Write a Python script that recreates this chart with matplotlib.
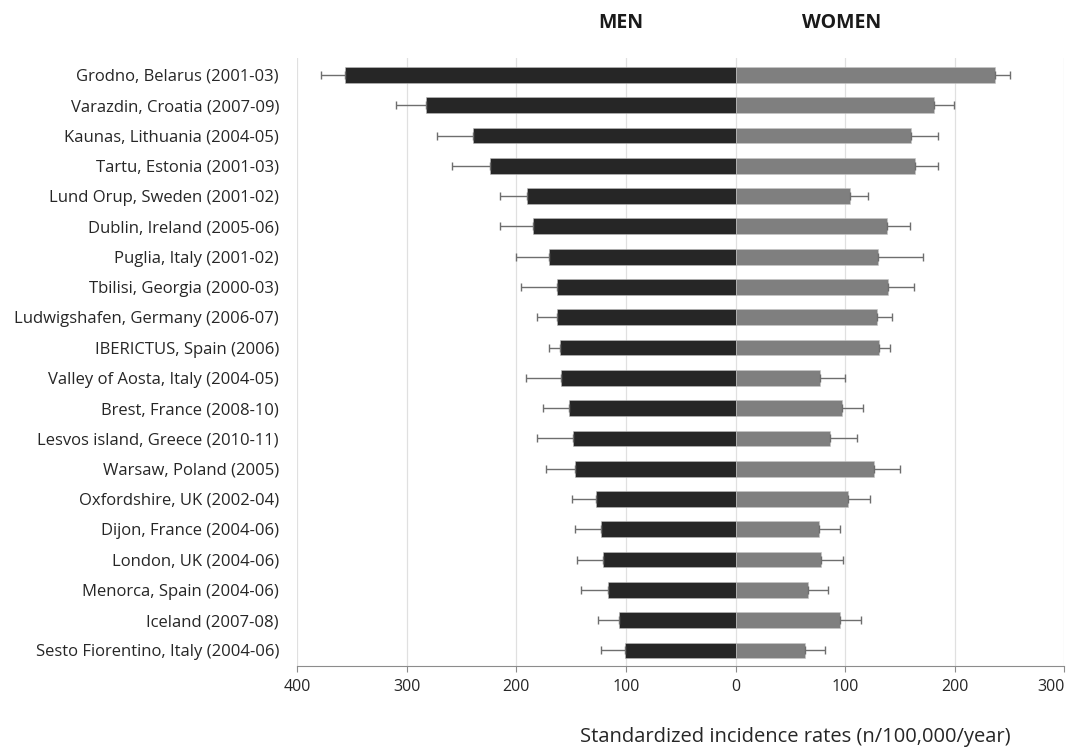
import numpy as np
import matplotlib
matplotlib.use('Agg')
import matplotlib.pyplot as plt
from matplotlib.transforms import ScaledTranslation

plt.rcParams['font.family'] = ['Open Sans', 'DejaVu Sans']

centres = ['Grodno, Belarus (2001-03)', 'Varazdin, Croatia (2007-09)',
           'Kaunas, Lithuania (2004-05)', 'Tartu, Estonia (2001-03)',
           'Lund Orup, Sweden (2001-02)', 'Dublin, Ireland (2005-06)',
           'Puglia, Italy (2001-02)', 'Tbilisi, Georgia (2000-03)',
           'Ludwigshafen, Germany (2006-07)', 'IBERICTUS, Spain (2006)',
           'Valley of Aosta, Italy (2004-05)', 'Brest, France (2008-10)',
           'Lesvos island, Greece (2010-11)', 'Warsaw, Poland (2005)',
           'Oxfordshire, UK (2002-04)', 'Dijon, France (2004-06)',
           'London, UK (2004-06)', 'Menorca, Spain (2004-06)',
           'Iceland (2007-08)', 'Sesto Fiorentino, Italy (2004-06)']

men = [356, 282, 239, 224, 190, 185, 170, 163, 163, 160,
       159, 152, 148, 146, 127, 123, 121, 116, 106, 101]
men_upper = [378, 310, 272, 259, 215, 215, 200, 196, 181, 170,
             191, 176, 181, 173, 149, 146, 145, 141, 125, 123]

women = [237, 181, 160, 164, 104, 138, 130, 139, 129, 131,
         77, 97, 86, 126, 103, 76, 78, 66, 95, 63]
women_upper = [250, 199, 185, 185, 121, 159, 171, 163, 143, 141,
               100, 116, 111, 150, 123, 95, 98, 84, 114, 82]

y = np.arange(len(centres))
men_err = np.array(men_upper) - np.array(men)
women_err = np.array(women_upper) - np.array(women)

fig = plt.figure(figsize=(10.72, 7.47), dpi=100)
ax = fig.add_axes([0.277, 0.109, 0.716, 0.813])

err_style = dict(ecolor='#6e6e6e', elinewidth=1.0, capsize=3, capthick=1.0)
ax.barh(y, -np.array(men), height=0.52, color='#262626', edgecolor='#bdbdbd',
        linewidth=0.4, xerr=[men_err, np.zeros(len(y))], error_kw=err_style, zorder=3)
ax.barh(y, women, height=0.52, color='#7f7f7f', edgecolor='#c8c8c8',
        linewidth=0.4, xerr=[np.zeros(len(y)), women_err], error_kw=err_style, zorder=3)

ax.set_ylim(19.5, -0.55)
ax.set_xlim(-400, 300)
ticks = np.arange(-400, 301, 100)
ax.set_xticks(ticks)
ax.set_xticklabels([str(abs(t)) for t in ticks], fontsize=11.5, color='#262626')
# last label sits a bit left of its tick, as in the original
last = ax.get_xticklabels()[-1]
last.set_horizontalalignment('right')
last.set_transform(last.get_transform() + ScaledTranslation(6 / 100, 0, fig.dpi_scale_trans))

ax.set_yticks(y)
ax.set_yticklabels(centres, fontsize=12, color='#262626')
ax.tick_params(axis='y', length=0, pad=13)
ax.tick_params(axis='x', length=4, color='#8c8c8c', pad=6)

ax.grid(axis='x', color='#e0e0e0', linewidth=0.9, zorder=0)
for s in ['top', 'right', 'left']:
    ax.spines[s].set_visible(False)
ax.spines['bottom'].set_color('#8c8c8c')

fig.text(621 / 1072, 1 - 23 / 747, 'MEN', fontsize=14, fontweight='bold',
         ha='center', va='center', color='#1a1a1a')
fig.text(842 / 1072, 1 - 23 / 747, 'WOMEN', fontsize=14, fontweight='bold',
         ha='center', va='center', color='#1a1a1a')
fig.text(795 / 1072, 1 - 737 / 747, 'Standardized incidence rates (n/100,000/year)',
         fontsize=14.5, ha='center', va='center', color='#262626')

fig.savefig('out.png', dpi=100)
